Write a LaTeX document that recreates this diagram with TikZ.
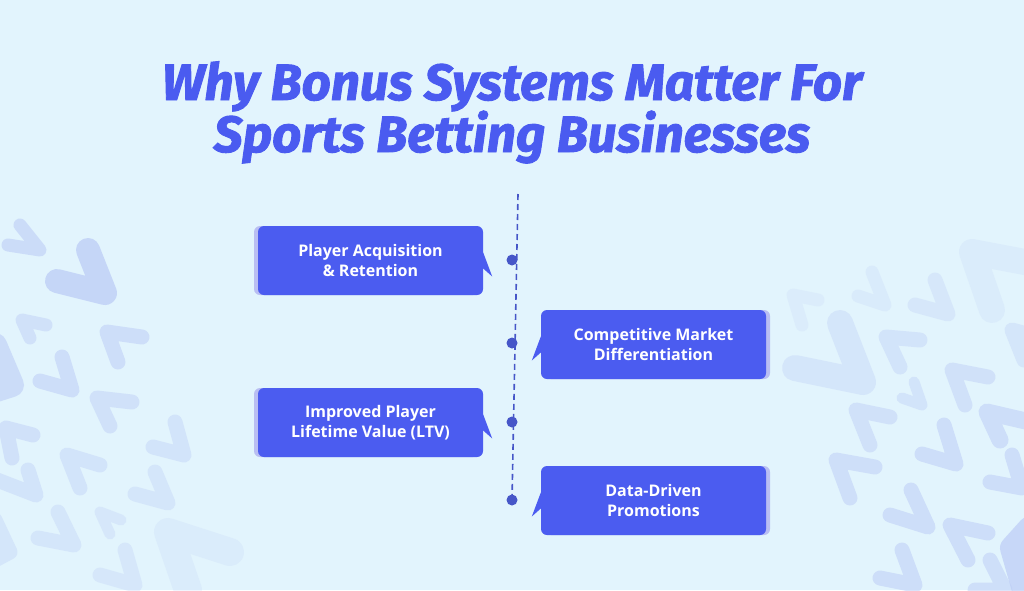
\documentclass[tikz,border=0pt]{standalone}
\usepackage{fontspec}
\setmainfont{Open Sans}
\newfontfamily\titlefont{Fira Sans}[BoldItalicFeatures={FakeBold=1.8}]
\definecolor{bg}{HTML}{E2F4FD}
\definecolor{boxblue}{HTML}{4B5CF0}
\definecolor{shade}{HTML}{B9BEF3}
\definecolor{titleblue}{HTML}{4A5BF0}
\definecolor{lineblue}{HTML}{4656C8}
\definecolor{chevc}{HTML}{BCCCF6}
\tikzset{
  stepbox/.style={rectangle, rounded corners=6pt, fill=boxblue, minimum width=225pt,
    minimum height=69pt, text=white, align=center, inner sep=0pt,
    font=\fontsize{16}{20}\selectfont\bfseries},
  shadowbox/.style={rectangle, rounded corners=6pt, fill=shade, minimum width=225pt,
    minimum height=69pt, inner sep=0pt},
  dotnode/.style={circle, fill=lineblue, minimum size=11pt, inner sep=0pt},
  timeline/.style={draw=lineblue, line width=1.6pt, dash pattern=on 6pt off 4pt},
  chevst/.style={draw=chevc, line cap=round, line join=round},
  titlest/.style={text=titleblue, font=\titlefont\bfseries\itshape\fontsize{51}{52}\selectfont}
}
\newcommand{\chev}[4]{\draw[chevst,#1] (#2) -- (#3) -- (#4);}
\begin{document}
\begin{tikzpicture}[x=1pt,y=-1pt]
\useasboundingbox (0,0) rectangle (1024,590);
\fill[bg] (0,0) rectangle (1024,590);
\begin{scope}
\clip (0,0) rectangle (1024,590);
% background chevrons left
\chev{line width=13pt,opacity=.6}{20,225}{40,250}{8,245}
\chev{line width=24pt,opacity=.75}{88,250}{105,293}{57,281}
\chev{line width=13pt,opacity=.45}{46,325}{22,320}{30,338}
\chev{line width=15pt,opacity=.55}{142,337}{107,332}{118,362}
\chev{line width=24pt,opacity=.6}{-5,345}{12,385}{-10,392}
\chev{line width=15pt,opacity=.55}{62,357}{72,390}{40,381}
\chev{line width=15pt,opacity=.45}{132,402}{97,398}{110,426}
\chev{line width=15pt,opacity=.45}{33,435}{6,428}{12,458}
\chev{line width=15pt,opacity=.4}{175,422}{184,455}{153,447}
\chev{line width=15pt,opacity=.4}{100,465}{67,455}{80,488}
\chev{line width=15pt,opacity=.4}{-8,478}{36,495}{28,470}
\chev{line width=15pt,opacity=.35}{155,472}{168,503}{135,494}
\chev{line width=15pt,opacity=.35}{58,512}{74,545}{38,538}
\chev{line width=11pt,opacity=.3}{121,520}{100,512}{110,534}
\chev{line width=28pt,opacity=.2}{230,552}{168,532}{188,590}
\chev{line width=15pt,opacity=.3}{125,550}{135,585}{100,575}
\chev{line width=15pt,opacity=.35}{-5,520}{10,552}{-5,560}
% right
\chev{line width=26pt,opacity=.2}{1030,263}{972,252}{992,310}
\chev{line width=13pt,opacity=.22}{872,272}{885,305}{858,296}
\chev{line width=15pt,opacity=.3}{935,280}{948,314}{915,305}
\chev{line width=13pt,opacity=.18}{818,300}{793,295}{802,325}
\chev{line width=26pt,opacity=.35}{840,323}{863,382}{795,368}
\chev{line width=15pt,opacity=.4}{920,340}{886,337}{900,367}
\chev{line width=15pt,opacity=.35}{1030,335}{1012,330}{1024,360}
\chev{line width=11pt,opacity=.4}{914,382}{922,405}{902,398}
\chev{line width=15pt,opacity=.45}{988,377}{952,370}{965,405}
\chev{line width=15pt,opacity=.45}{890,417}{856,410}{870,445}
\chev{line width=17pt,opacity=.55}{1030,422}{987,412}{1000,440}
\chev{line width=15pt,opacity=.55}{944,425}{956,464}{922,454}
\chev{line width=15pt,opacity=.5}{875,467}{836,460}{850,498}
\chev{line width=15pt,opacity=.55}{1012,455}{1022,488}{990,482}
\chev{line width=15pt,opacity=.55}{911,490}{928,527}{890,515}
\chev{line width=15pt,opacity=.55}{988,533}{950,525}{968,560}
\chev{line width=24pt,opacity=.7}{1030,528}{1012,548}{1024,590}
\chev{line width=15pt,opacity=.55}{902,550}{915,585}{880,578}
\chev{line width=15pt,opacity=.5}{990,560}{1005,590}{975,590}
\end{scope}
% title
\node[titlest, anchor=base] (t1) at (512,100) {Why Bonus Systems Matter For};
\node[titlest, anchor=base] (t2) at (512,152) {Sports Betting Businesses};
% timeline
\coordinate (ltop) at (518,194);
\coordinate (lbot) at (512,500);
\draw[timeline] (ltop) -- (lbot);
% shadows
\node[shadowbox] (s1) at (366.5,260.5) {};
\node[shadowbox] (s2) at (657.5,344.5) {};
\node[shadowbox] (s3) at (366.5,422.5) {};
\node[shadowbox] (s4) at (657.5,500.5) {};
% boxes
\node[stepbox] (b1) at (370.5,260.5) {Player Acquisition\\\& Retention};
\node[stepbox] (b2) at (653.5,344.5) {Competitive Market\\Differentiation};
\node[stepbox] (b3) at (370.5,422.5) {Improved Player\\Lifetime Value (LTV)};
\node[stepbox] (b4) at (653.5,500.5) {Data-Driven\\Promotions};
% pointers
\fill[boxblue] ([yshift=-8pt]b1.east) -- ++(9,8) -- ([yshift=8pt]b1.east) -- cycle;
\fill[boxblue] ([yshift=-8pt]b3.east) -- ++(9,8) -- ([yshift=8pt]b3.east) -- cycle;
\fill[boxblue] ([yshift=-8pt]b2.west) -- ++(-9,8) -- ([yshift=8pt]b2.west) -- cycle;
\fill[boxblue] ([yshift=-8pt]b4.west) -- ++(-9,8) -- ([yshift=8pt]b4.west) -- cycle;
% dots
\node[dotnode] (d1) at (512,260) {};
\node[dotnode] (d2) at (512,343) {};
\node[dotnode] (d3) at (512,422) {};
\node[dotnode] (d4) at (512,500) {};
\end{tikzpicture}
\end{document}
